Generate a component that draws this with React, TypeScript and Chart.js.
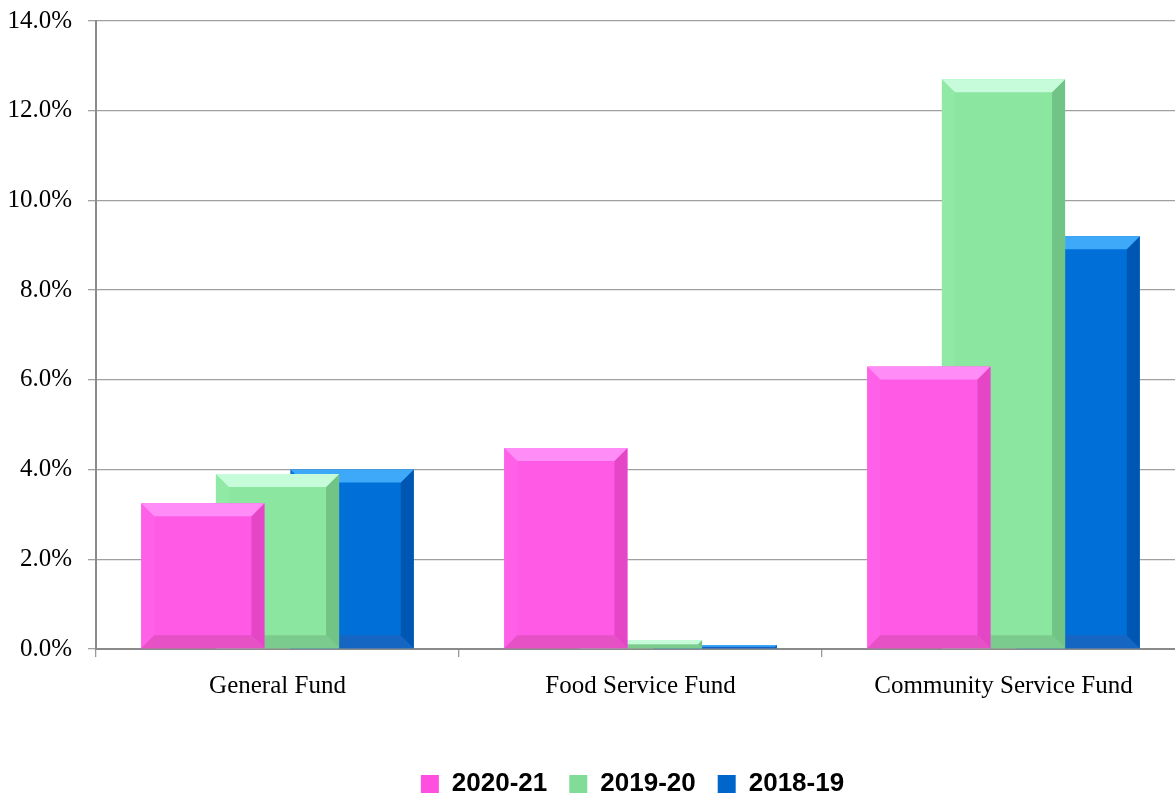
import React, { useEffect, useRef } from "react";
import { Chart, registerables } from "chart.js";

Chart.register(...registerables);

const categories = ["General Fund", "Food Service Fund", "Community Service Fund"];
const seriesLabels = ["2020-21", "2019-20", "2018-19"];
const values2020_21 = [3.25, 4.48, 6.3];
const values2019_20 = [3.9, 0.2, 12.7];
const values2018_19 = [4.0, 0.09, 9.2];
const yTicks = [0, 2, 4, 6, 8, 10, 12, 14];

const palettes = [
  { main: "#FF5AE6", top: "#FF8CF7", right: "#E446C6", bottom: "#E652C6", left: "#FF60E8", legend: "#FF4FE0" },
  { main: "#8BE6A0", top: "#C6FCDA", right: "#72C386", bottom: "#7CCB8E", left: "#90E9A5", legend: "#80DC96" },
  { main: "#0070D8", top: "#3DA9F8", right: "#0056B3", bottom: "#1565C3", left: "#0675DB", legend: "#0066CC" },
];

const bevelPlugin = {
  id: "bevel",
  afterDatasetDraw(chart: any, args: any) {
    const ctx = chart.ctx;
    const pal = palettes[args.index];
    const meta = args.meta;
    ctx.save();
    for (const el of meta.data) {
      const { x, y, base, width } = el.getProps(["x", "y", "base", "width"], true);
      const l = x - width / 2;
      const r = x + width / 2;
      const t = Math.min(y, base);
      const bt = Math.max(y, base);
      const h = bt - t;
      const b = Math.min(13, h / 2, width / 2);
      const poly = (pts: number[][], color: string) => {
        ctx.beginPath();
        ctx.moveTo(pts[0][0], pts[0][1]);
        for (let i = 1; i < pts.length; i++) ctx.lineTo(pts[i][0], pts[i][1]);
        ctx.closePath();
        ctx.fillStyle = color;
        ctx.fill();
      };
      poly([[l, t], [l + b, t + b], [l + b, bt - b], [l, bt]], pal.left);
      poly([[l, bt], [r, bt], [r - b, bt - b], [l + b, bt - b]], pal.bottom);
      poly([[r, t], [r, bt], [r - b, bt - b], [r - b, t + b]], pal.right);
      poly([[l, t], [r, t], [r - b, t + b], [l + b, t + b]], pal.top);
    }
    ctx.restore();
  },
};

const legendShiftPlugin = {
  id: "legendShift",
  afterLayout(chart: any) {
    const lg = chart.legend;
    if (!lg) return;
    lg.left += 40;
    lg.right += 40;
    lg.top += 11;
    lg.bottom += 11;
  },
};

export default function App() {
  const ref = useRef<HTMLCanvasElement | null>(null);
  useEffect(() => {
    document.body.style.margin = "0";
    const dataArrays = [values2020_21, values2019_20, values2018_19];
    const chart = new Chart(ref.current as HTMLCanvasElement, {
      type: "bar",
      data: {
        labels: categories,
        datasets: seriesLabels.map((lab, i) => ({
          label: lab,
          data: dataArrays[i],
          backgroundColor: palettes[i].main,
          borderWidth: 0,
          categoryPercentage: 0.617,
          barPercentage: 1.65,
        })),
      },
      options: {
        animation: false,
        responsive: false,
        maintainAspectRatio: false,
        layout: { padding: { left: 0, right: 0, top: 21, bottom: 0 } },
        plugins: {
          tooltip: { enabled: false },
          legend: {
            position: "bottom",
            labels: {
              boxWidth: 18,
              boxHeight: 18,
              padding: 22,
              color: "#000",
              font: { family: "Liberation Sans", size: 26, weight: "bold" },
              generateLabels: () =>
                seriesLabels.map((lab, i) => ({
                  text: lab,
                  fillStyle: palettes[i].legend,
                  strokeStyle: palettes[i].legend,
                  lineWidth: 0,
                  datasetIndex: i,
                  hidden: false,
                })),
            },
          },
        },
        scales: {
          x: {
            grid: { display: true, drawOnChartArea: false, drawTicks: true, tickLength: 8, offset: true, color: "#999", lineWidth: 1.3 },
            border: { display: true, color: "#8a8a8a", width: 2 },
            ticks: { color: "#000", padding: 14, font: { family: "Liberation Serif", size: 25 } },
            afterFit: (s: any) => { s.height = 89; s.paddingLeft = 0; s.paddingRight = 0; },
          },
          y: {
            min: 0,
            max: 14,
            afterBuildTicks: (s: any) => { s.ticks = yTicks.map((v) => ({ value: v })); },
            grid: { color: "#a0a0a0", lineWidth: 1.3, tickLength: 8 },
            border: { display: true, color: "#8a8a8a", width: 2 },
            ticks: {
              color: "#000",
              padding: 16,
              font: { family: "Liberation Serif", size: 25 },
              callback: (v: any) => Number(v).toFixed(1) + "%",
            },
            afterFit: (s: any) => { s.width = 96; s.paddingTop = 0; s.paddingBottom = 0; },
          },
        },
      },
      plugins: [bevelPlugin, legendShiftPlugin],
    } as any);
    return () => chart.destroy();
  }, []);
  return (
    <div style={{ width: 1175, height: 796, overflow: "hidden" }}>
      <canvas ref={ref} width={1185} height={796} style={{ display: "block" }} />
    </div>
  );
}
